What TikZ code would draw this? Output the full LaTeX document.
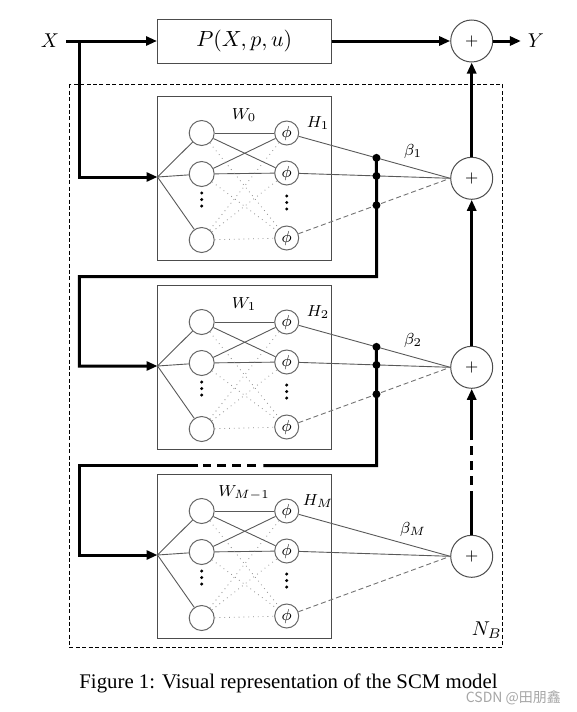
\documentclass[tikz,border=0pt]{standalone}
\usepackage{fontspec}
\setmainfont{Liberation Serif}
\newfontfamily\cjkfont{Noto Sans CJK SC}
\usetikzlibrary{arrows.meta,calc}
\begin{document}
\begin{tikzpicture}[x=0.5pt,y=-0.5pt,
  flow/.style={line width=1.5pt,-{Triangle[length=5.5pt,width=4.5pt]}},
  bus/.style={line width=1.5pt},
  gapline/.style={line width=1.5pt,dash pattern=on 4.5pt off 3pt},
  box/.style={draw=black!70,line width=0.5pt,minimum width=86.75pt,inner sep=0pt},
  unit/.style={circle,draw=black!60,line width=0.5pt,minimum size=12.5pt,inner sep=0pt},
  act/.style={unit,minimum size=12pt,font=\footnotesize},
  sum/.style={circle,draw=black!70,line width=0.5pt,minimum size=21pt,inner sep=0pt,font=\footnotesize},
  link/.style={black!65,line width=0.45pt},
  weak/.style={black!45,line width=0.4pt,dotted},
  tail/.style={black!55,line width=0.45pt,dash pattern=on 2.5pt off 1.5pt},
  lbl/.style={font=\footnotesize}]
\useasboundingbox (0,0) rectangle (577,712);
% top path
\node (X) at (50,41) {$X$};
\node[box,minimum height=22pt,font=\fontsize{11pt}{13pt}\selectfont] (P) at (244.25,41) {$P(X,p,u)$};
\node[sum] (s0) at (471.7,41) {$+$};
\node (Y) at (536,41) {$Y$};
\coordinate (xb) at (79.3,41);
\draw[flow] (X) -- (P);
\draw[flow] (P) -- (s0);
\draw[flow] (s0) -- (Y);
% the three blocks
\foreach \b/\t/\w/\h/\bt in {1/96/W_0/H_1/\beta_1,2/285/W_1/H_2/\beta_2,3/474/W_{M-1}/H_M/\beta_M}{
\begin{scope}[shift={(0,\t)}]
\node[box,minimum height=82.25pt] (nn-\b) at (244.25,82.25) {};
\coordinate (in-\b) at (157.5,81);
\node[unit] (i1-\b) at (201.7,37) {};
\node[unit] (i2-\b) at (201.7,78) {};
\node[unit] (i3-\b) at (201.7,144) {};
\node[act] (f1-\b) at (286.7,37) {$\phi$};
\node[act] (f2-\b) at (286.7,77) {$\phi$};
\node[act] (f3-\b) at (286.7,142) {$\phi$};
\foreach \y in {0,6.5,13}{
\fill (201.7,97+\y) circle[radius=0.85pt];
\fill (286.7,100+\y) circle[radius=0.85pt];
}
\node[sum] (s\b) at (471.7,82.3) {$+$};
\node[lbl] (w-\b) at (244,19) {$\w$};
\node[lbl] (h-\b) at (318,27) {$\h$};
\node[lbl] (bt-\b) at (413,55) {$\bt$};
\end{scope}
\foreach \i in {1,2,3} \draw[link] (in-\b) -- (i\i-\b);
\foreach \i/\j in {1/1,1/2,2/1,2/2} \draw[link] (i\i-\b) -- (f\j-\b);
\foreach \i/\j in {1/3,2/3,3/1,3/2,3/3} \draw[weak] (i\i-\b) -- (f\j-\b);
\draw[link] (f1-\b) -- (s\b.west);
\draw[link] (f2-\b) -- (s\b.west);
\draw[tail] (f3-\b) -- (s\b.west);
}
% buses between blocks
\foreach \b in {1,2}{
\foreach \i in {1,2,3}{
\coordinate (d\i-\b) at ($(f\i-\b)!0.549!(s\b.west)$);
\fill (d\i-\b) circle[radius=2pt];
}}
\coordinate (r1) at (376.7,276.7);
\coordinate (l1) at (79.3,276.7);
\coordinate (r2) at (376.7,465.7);
\coordinate (l2) at (79.3,465.7);
\coordinate (g1) at (263.3,465.7);
\coordinate (g2) at (256,465.7);
\coordinate (g3) at (203,465.7);
\coordinate (g4) at (198.3,465.7);
\draw[flow] (xb) |- (in-1);
\draw[flow] (d1-1) -- (r1) -- (l1) |- (in-2);
\draw[bus] (d1-2) -- (r2) -- (g1);
\draw[gapline] (g2) -- (g3);
\draw[flow] (g4) -- (l2) |- (in-3);
% sum column
\coordinate (v1) at (471.7,500);
\coordinate (v2) at (471.7,440);
\draw[flow] (s1) -- (s0);
\draw[flow] (s2) -- (s1);
\draw[bus] (s3) -- (v1);
\draw[gapline] (v1) -- (v2);
\draw[flow] (v2) -- (s2);
% N_B frame
\draw[line width=0.5pt,dash pattern=on 2pt off 1.2pt] (69.3,84.3) rectangle (502.5,647.3);
\node (nb) at (486.7,630) {$N_B$};
\node[font=\fontsize{10.4pt}{12pt}\selectfont] (cap) at (288.5,683) {Figure 1: Visual representation of the SCM model};
\node[font=\cjkfont\fontsize{7pt}{8pt}\selectfont,text=black!35,anchor=east] (wm) at (568,698) {CSDN @田朋鑫};
\end{tikzpicture}
\end{document}
